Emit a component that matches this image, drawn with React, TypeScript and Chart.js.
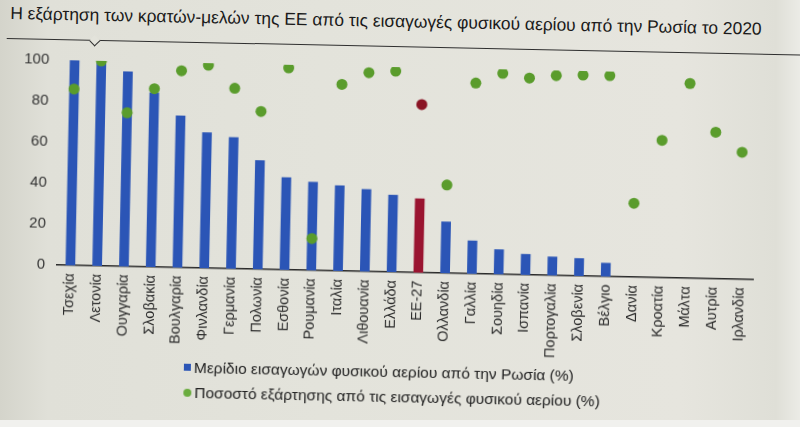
import React, { useEffect, useRef } from 'react';
import { Chart, registerables } from 'chart.js';

Chart.register(...registerables);

const countries = [
  'Τσεχία', 'Λετονία', 'Ουγγαρία', 'Σλοβακία', 'Βουλγαρία', 'Φινλανδία', 'Γερμανία',
  'Πολωνία', 'Εσθονία', 'Ρουμανία', 'Ιταλία', 'Λιθουανία', 'Ελλάδα', 'ΕΕ-27',
  'Ολλανδία', 'Γαλλία', 'Σουηδία', 'Ισπανία', 'Πορτογαλία', 'Σλοβενία', 'Βέλγιο',
  'Δανία', 'Κροατία', 'Μάλτα', 'Αυτρία', 'Ιρλανδία',
];

// Μερίδιο εισαγωγών από Ρωσία (%), no bar for the last five
const russianShare: (number | null)[] = [
  100, 100, 95, 85, 74, 66, 64, 53, 45, 43, 41.5, 40, 37.5, 36,
  25, 16, 12, 10, 9, 8.5, 6.5, null, null, null, null, null,
];

// Ποσοστό εξάρτησης (%)
const dependency: number[] = [
  86, 100, 75, 87, 96, 99, 88, 77, 98.5, 15.5, 91, 97, 98, 82,
  43, 93, 98, 96, 97.5, 98, 98, 36, 67, 95, 71.5, 62,
];

const yTicks = [0, 20, 40, 60, 80, 100];
const euLabel = 'ΕΕ-27';

const titleText = 'Η εξάρτηση των κρατών-μελών της ΕΕ από τις εισαγωγές φυσικού αερίου από την Ρωσία το 2020';
const shareLabel = 'Μερίδιο εισαγωγών φυσικού αερίου από την Ρωσία (%)';
const dependencyLabel = 'Ποσοστό εξάρτησης από τις εισαγωγές φυσικού αερίου (%)';

const BLUE = '#2b55b6';
const GREEN = '#5a9c2c';
const RED_BAR = '#9a1430';
const RED_DOT = '#8a1424';
const BG = '#e3e3db';
const FONT = "'Liberation Sans', Arial, sans-serif";

Chart.defaults.font.family = FONT;

const App: React.FC = () => {
  const canvasRef = useRef<HTMLCanvasElement>(null);
  const chartRef = useRef<Chart | null>(null);

  useEffect(() => {
    if (!canvasRef.current) return;
    if (chartRef.current) chartRef.current.destroy();

    chartRef.current = new Chart(canvasRef.current, {
      type: 'bar',
      data: {
        labels: countries,
        datasets: [
          {
            type: 'bar',
            label: shareLabel,
            data: russianShare,
            backgroundColor: countries.map(c => (c === euLabel ? RED_BAR : BLUE)),
            barThickness: 9,
            order: 2,
          },
          {
            type: 'line',
            label: dependencyLabel,
            data: dependency,
            showLine: false,
            pointRadius: 5.5,
            pointHoverRadius: 5.5,
            pointBorderWidth: 0,
            borderColor: 'transparent',
            pointBackgroundColor: countries.map(c => (c === euLabel ? RED_DOT : GREEN)),
            order: 1,
          },
        ],
      },
      options: {
        animation: false,
        responsive: true,
        maintainAspectRatio: false,
        layout: { padding: { left: 0, right: 47, top: 60, bottom: 62 } },
        plugins: {
          legend: { display: false },
          title: { display: false },
          tooltip: { enabled: false },
        },
        scales: {
          x: {
            grid: { display: false, drawTicks: false },
            border: { display: true, color: '#2a2a2a', width: 1.5 },
            ticks: {
              autoSkip: false,
              minRotation: 90,
              maxRotation: 90,
              padding: 8,
              color: '#2a2a2a',
              font: { size: 14.5 },
            },
            afterFit: (s: any) => { s.height = 100; },
          },
          y: {
            min: 0,
            max: 100,
            afterBuildTicks: (s: any) => { s.ticks = yTicks.map(v => ({ value: v })); },
            grid: { display: false, drawTicks: false },
            border: { display: false },
            ticks: { padding: 12, color: '#333', font: { size: 15 } },
            afterFit: (s: any) => { s.width = 57; },
          },
        },
      },
    });

    return () => {
      if (chartRef.current) {
        chartRef.current.destroy();
        chartRef.current = null;
      }
    };
  }, []);

  return (
    <div
      style={{
        position: 'fixed', left: 0, top: 0, width: 800, height: 427, overflow: 'hidden',
        background: `linear-gradient(90deg, #d4d4cb 0%, #e0e0d8 6%, ${BG} 40%, #e6e5de 85%, #dfdfd7 97%, #ebebe6 100%)`,
        fontFamily: FONT,
      }}
    >
      <div
        style={{
          position: 'absolute', left: 0, top: 0, width: 800, height: 427,
          transform: 'rotate(1.2deg)', transformOrigin: '56px 265px',
        }}
      >
        <div
          style={{
            position: 'absolute', left: 5, top: 4, fontSize: 17.4, lineHeight: '20px',
            color: '#1a1a1a', whiteSpace: 'nowrap',
          }}
        >
          {titleText}
        </div>
        <div style={{ position: 'absolute', left: 2, width: 820, top: 39, borderTop: '1.5px solid #2f2f2f' }} />
        <div
          style={{
            position: 'absolute', left: 86, top: 35.5, width: 7, height: 7, background: BG,
            borderRight: '1.5px solid #2f2f2f', borderBottom: '1.5px solid #2f2f2f',
            transform: 'rotate(45deg)',
          }}
        />
        <div style={{ position: 'absolute', left: 0, top: 0, width: 800, height: 427 }}>
          <canvas ref={canvasRef} />
        </div>
        <div style={{ position: 'absolute', left: 186, top: 352, fontSize: 15.5, color: '#222' }}>
          <div style={{ display: 'flex', alignItems: 'center', height: 25 }}>
            <span style={{ width: 7, height: 7, background: BLUE, marginRight: 3, display: 'inline-block' }} />
            <span>{shareLabel}</span>
          </div>
          <div style={{ display: 'flex', alignItems: 'center', height: 25 }}>
            <span style={{ width: 8, height: 8, borderRadius: 4, background: '#6aac3e', marginRight: 3, display: 'inline-block' }} />
            <span>{dependencyLabel}</span>
          </div>
        </div>
      </div>
      <div style={{ position: 'absolute', left: 0, top: 420, width: 800, height: 7, background: '#f1f1ee' }} />
    </div>
  );
};

export default App;
